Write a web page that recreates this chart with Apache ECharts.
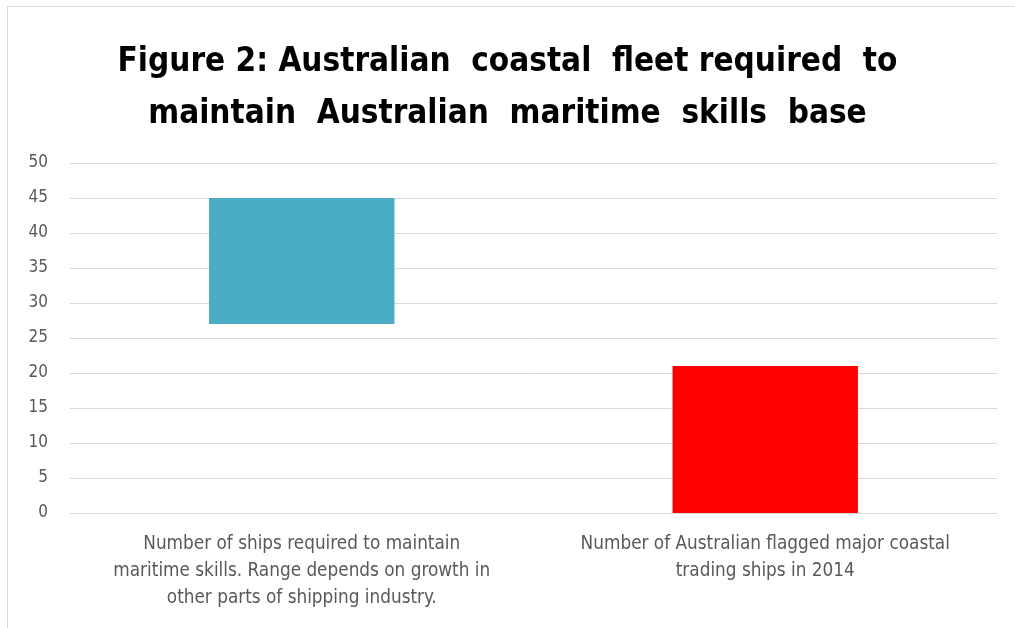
<!DOCTYPE html>
<html><head><meta charset="utf-8">
<script src="https://cdn.jsdelivr.net/npm/echarts@6/dist/echarts.min.js"></script>
<style>html,body{margin:0;padding:0;background:#fff}#c{width:1015px;height:628px}</style>
</head><body><div id="c"></div>
<script>
const categories = [
  "Number of ships required to maintain\nmaritime skills. Range depends on growth in\nother parts of shipping industry.",
  "Number of Australian flagged major coastal\ntrading ships in 2014"
];
const baseValues = [27, 0];
const rangeValues = [18, 21];
const barColors = ["#4BACC6", "#FF0000"];
const yTicks = [0, 5, 10, 15, 20, 25, 30, 35, 40, 45, 50];
const titleLines = ["Figure 2: Australian  coastal  fleet required  to", "maintain  Australian  maritime  skills  base"];

const font = "'Liberation Sans Narrow','DejaVu Sans Condensed',sans-serif";
const chart = echarts.init(document.getElementById('c'), null, {renderer: 'canvas'});
chart.setOption({
  animation: false,
  backgroundColor: '#fff',
  title: {
    text: titleLines.join('\n'),
    left: 'center', top: 31,
    textStyle: {fontFamily: font, fontWeight: 'bold', fontSize: 33, color: '#000', lineHeight: 52}
  },
  graphic: [
    {type: 'line', shape: {x1: 7.5, y1: 6, x2: 7.5, y2: 628}, style: {stroke: '#d9d9d9', lineWidth: 1}},
    {type: 'line', shape: {x1: 7, y1: 6.5, x2: 1015, y2: 6.5}, style: {stroke: '#d9d9d9', lineWidth: 1}}
  ],
  grid: {left: 70, right: 18, top: 163, bottom: 115, containLabel: false},
  xAxis: {
    type: 'category', data: categories,
    axisTick: {show: false},
    axisLine: {lineStyle: {color: '#d9d9d9', width: 1}},
    axisLabel: {interval: 0, color: '#595959', fontFamily: font, fontSize: 18.8, lineHeight: 27, margin: 18}
  },
  yAxis: {
    type: 'value', min: 0, max: 50, interval: 5,
    axisLine: {show: false}, axisTick: {show: false},
    axisLabel: {color: '#595959', fontFamily: font, fontSize: 17, margin: 22,
      formatter: v => yTicks.includes(v) ? String(v) : ''},
    splitLine: {lineStyle: {color: '#d9d9d9', width: 1}}
  },
  series: [
    {type: 'bar', stack: 's', data: baseValues, barWidth: '40%', itemStyle: {color: 'transparent'}, silent: true},
    {type: 'bar', stack: 's', data: rangeValues.map((v, i) => ({value: v, itemStyle: {color: barColors[i]}})), barWidth: '40%'}
  ]
});
</script></body></html>
